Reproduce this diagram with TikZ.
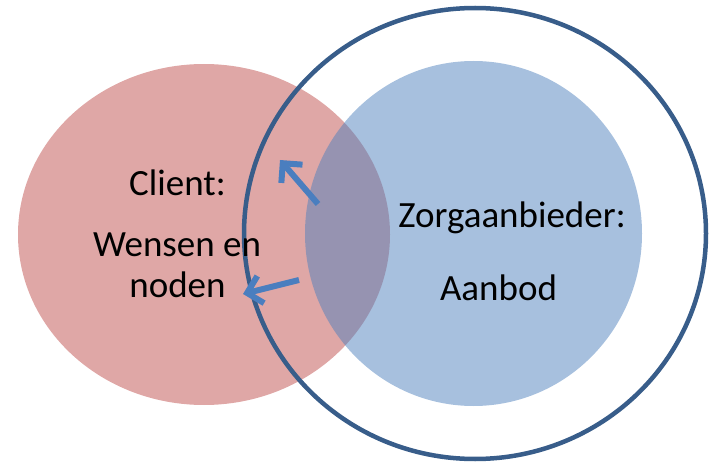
\documentclass[tikz,border=0pt]{standalone}
\usepackage{fontspec}
\setmainfont{Carlito}
\usetikzlibrary{arrows.meta,shapes.geometric}
\definecolor{redfill}{HTML}{C0504D}
\definecolor{bluefill}{HTML}{4F81BD}
\definecolor{ringcol}{HTML}{385D8A}
\definecolor{arrowcol}{HTML}{4A7EBF}
\begin{document}
\begin{tikzpicture}[x=1pt,y=-1pt,
  blob/.style={ellipse, inner sep=0pt, fill opacity=0.5},
  lbl/.style={font=\fontsize{37}{41}\selectfont, anchor=base, inner sep=0pt, text=black},
  flow/.style={draw=arrowcol, line width=6pt, -{Straight Barb[length=14pt,width=28pt]}}]
\useasboundingbox (0,0) rectangle (712,465);
\node[blob, fill=redfill, minimum width=372pt, minimum height=341pt] (client) at (204,234.5) {};
\node[blob, fill=bluefill, minimum width=337pt, minimum height=345pt] (provider) at (473.5,233.5) {};
\node[ellipse, draw=ringcol, line width=4.5pt, minimum width=462pt, minimum height=451pt, inner sep=0pt] (ring) at (475,233.5) {};
\node[lbl] (t1) at (177.5,196) {Client:};
\node[lbl] (t2) at (177,256) {Wensen en};
\node[lbl] (t3) at (177.5,297) {noden};
\node[lbl] (t4) at (512,227) {Zorgaanbieder:};
\node[lbl] (t5) at (498.5,300) {Aanbod};
\coordinate (a1s) at (318,204);
\coordinate (a1e) at (280,160);
\coordinate (a2s) at (299,280);
\coordinate (a2e) at (243,294);
\draw[flow] (a1s) -- (a1e);
\draw[flow] (a2s) -- (a2e);
\end{tikzpicture}
\end{document}
